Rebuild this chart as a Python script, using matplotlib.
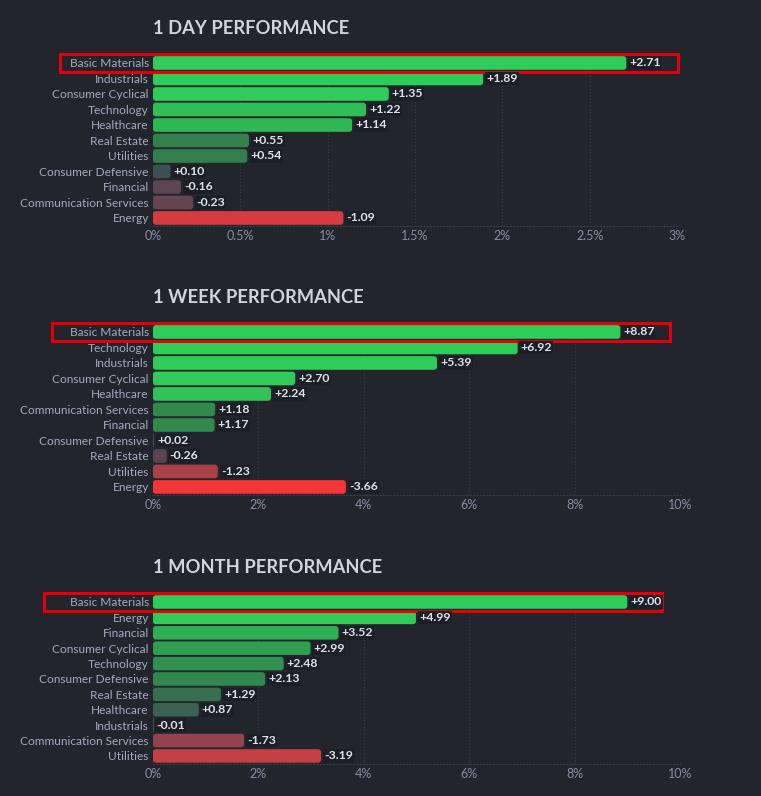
import matplotlib.pyplot as plt
import matplotlib.transforms as mtransforms
from matplotlib.patches import FancyBboxPatch, Rectangle
import numpy as np
from matplotlib.colors import to_rgb

plt.rcParams['font.family'] = ['Lato', 'DejaVu Sans']

# data
day_sectors = ['Basic Materials', 'Industrials', 'Consumer Cyclical', 'Technology', 'Healthcare',
               'Real Estate', 'Utilities', 'Consumer Defensive', 'Financial',
               'Communication Services', 'Energy']
day_values = [2.71, 1.89, 1.35, 1.22, 1.14, 0.55, 0.54, 0.10, -0.16, -0.23, -1.09]

week_sectors = ['Basic Materials', 'Technology', 'Industrials', 'Consumer Cyclical', 'Healthcare',
                'Communication Services', 'Financial', 'Consumer Defensive', 'Real Estate',
                'Utilities', 'Energy']
week_values = [8.87, 6.92, 5.39, 2.70, 2.24, 1.18, 1.17, 0.02, -0.26, -1.23, -3.66]

month_sectors = ['Basic Materials', 'Energy', 'Financial', 'Consumer Cyclical', 'Technology',
                 'Consumer Defensive', 'Real Estate', 'Healthcare', 'Industrials',
                 'Communication Services', 'Utilities']
month_values = [9.00, 4.99, 3.52, 2.99, 2.48, 2.13, 1.29, 0.87, -0.01, -1.73, -3.19]

day_ticks = [0, 0.5, 1, 1.5, 2, 2.5, 3]
day_ticklabels = ['0%', '0.5%', '1%', '1.5%', '2%', '2.5%', '3%']
long_ticks = [0, 2, 4, 6, 8, 10]
long_ticklabels = ['0%', '2%', '4%', '6%', '8%', '10%']

BG = '#22252c'
palette = ['#f63538', '#bf4045', '#8b444e', '#414554', '#35764e', '#2f9e4f', '#30cc5a']


def bar_color(v, step):
    t = np.clip(v / step, -3, 3) + 3
    i = int(min(np.floor(t), 5))
    f = t - i
    c0, c1 = np.array(to_rgb(palette[i])), np.array(to_rgb(palette[i + 1]))
    return tuple(c0 + (c1 - c0) * f)


fig = plt.figure(figsize=(7.61, 7.96), dpi=100, facecolor=BG)

panels = [
    ('1 DAY PERFORMANCE', day_sectors, day_values, day_ticks, day_ticklabels, 3, 0.45,
     [0.201, 0.7164, 0.6886, 0.2142], (-0.177, 1.002)),
    ('1 WEEK PERFORMANCE', week_sectors, week_values, long_ticks, long_ticklabels, 10, 0.8,
     [0.201, 0.3785, 0.6925, 0.2142], (-0.192, 0.981)),
    ('1 MONTH PERFORMANCE', month_sectors, month_values, long_ticks, long_ticklabels, 10, 1.5,
     [0.201, 0.0406, 0.6925, 0.2128], (-0.207, 0.966)),
]

for title, sectors, values, ticks, ticklabels, xmax, step, rect, hl in panels:
    ax = fig.add_axes(rect)
    ax.set_facecolor(BG)
    n = len(sectors)
    ax.set_xlim(0, xmax)
    ax.set_ylim(n - 0.5, -0.5)

    # pixel scale for rounded corners
    w_px = rect[2] * fig.get_figwidth() * fig.dpi
    h_px = rect[3] * fig.get_figheight() * fig.dpi
    xpp = xmax / w_px
    ypp = n / h_px

    bh = 0.88
    for i, v in enumerate(values):
        w = abs(v)
        r_px = min(3.0, w / xpp / 2)
        if r_px > 0.3:
            patch = FancyBboxPatch((0, i - bh / 2), w, bh,
                                   boxstyle='round,pad=0,rounding_size=%f' % (r_px * xpp),
                                   mutation_aspect=ypp / xpp,
                                   facecolor=bar_color(v, step), edgecolor='none')
        else:
            patch = Rectangle((0, i - bh / 2), max(w, xpp), bh,
                              facecolor=bar_color(v, step), edgecolor='none')
        ax.add_patch(patch)
        ax.text(w + 3 * xpp, i, '%+.2f' % v, va='center', ha='left', fontsize=8.8,
                fontweight='bold', color='#dde1ea',
                bbox=dict(boxstyle='square,pad=0.1', facecolor='#1c1f25', edgecolor='none'))

    ax.set_yticks(range(n))
    ax.set_yticklabels(sectors, fontsize=8.6, color='#a3aac0')
    ax.set_xticks(ticks)
    ax.set_xticklabels(ticklabels, fontsize=9, color='#878ea3')
    ax.tick_params(length=0, pad=3)
    ax.tick_params(axis='y', pad=3)
    ax.grid(axis='x', color='#3a3e48', linestyle=(0, (1, 2)), linewidth=0.8)
    ax.set_axisbelow(True)
    for s in ['top', 'right', 'left']:
        ax.spines[s].set_visible(False)
    ax.spines['bottom'].set_color('#3a3e48')
    ax.spines['bottom'].set_linestyle((0, (1, 2)))
    ax.spines['bottom'].set_linewidth(0.8)

    ax.set_title(title, loc='left', fontsize=13.2, fontweight='bold', color='#d1d4dc', pad=15)

    # red highlight around the top row
    trans = mtransforms.blended_transform_factory(ax.transAxes, ax.transData)
    ax.add_patch(Rectangle((hl[0], -0.58), hl[1] - hl[0], 1.16, transform=trans,
                           fill=False, edgecolor='#e3000b', linewidth=2.2, clip_on=False))

fig.savefig('out.png', dpi=100, facecolor=BG)
